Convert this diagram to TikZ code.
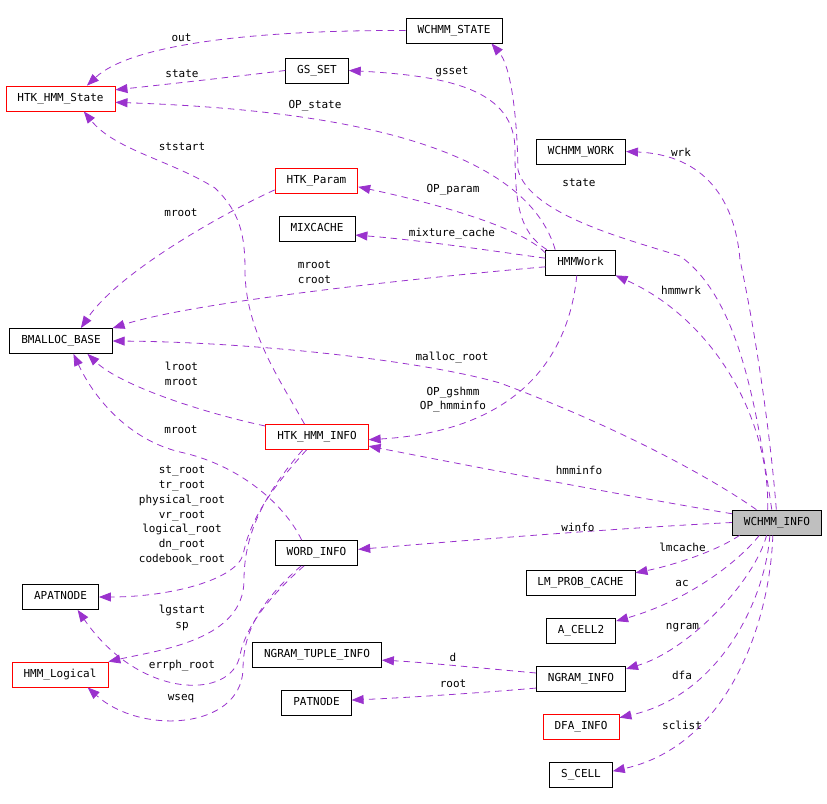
\documentclass[tikz,border=0pt]{standalone}
\usepackage{fontspec}
\newfontfamily\dxmono{DejaVu Sans Mono}
\usepackage{tikz}
\usetikzlibrary{arrows.meta}
\definecolor{dxedge}{HTML}{9A32CD}
\definecolor{dxred}{HTML}{FF0000}
\definecolor{dxfill}{HTML}{BFBFBF}

\begin{document}
\begin{tikzpicture}[x=1pt,y=-1pt,
  cls/.style={draw=black,line width=0.8pt,inner xsep=11.5pt,inner ysep=0pt,
    minimum height=25pt,text height=8pt,text depth=2.5pt,
    font=\dxmono\fontsize{11}{14.7}\selectfont},
  clsred/.style={cls,draw=dxred},
  rel/.style={dxedge,line width=0.8pt,dash pattern=on 6.5pt off 5pt,
    -{Triangle[length=12pt,width=9pt]}},
  lbl/.style={font=\dxmono\fontsize{11}{14.7}\selectfont,align=center,inner sep=0pt}]
  \useasboundingbox (0,0) rectangle (827,803);

  % classes
  \node[cls] (wstate) at (454,30.5) {WCHMM\_STATE};
  \node[cls] (gsset) at (317,70.5) {GS\_SET};
  \node[clsred] (hstate) at (60.5,98.5) {HTK\_HMM\_State};
  \node[cls] (wwork) at (581,151.5) {WCHMM\_WORK};
  \node[clsred] (hparam) at (316.5,181) {HTK\_Param};
  \node[cls] (mixcache) at (317,229) {MIXCACHE};
  \node[cls] (hmmwork) at (580.5,262.5) {HMMWork};
  \node[cls] (bmalloc) at (61,341) {BMALLOC\_BASE};
  \node[clsred] (hinfo) at (317,437) {HTK\_HMM\_INFO};
  \node[cls,fill=dxfill] (winfo) at (777,522.5) {WCHMM\_INFO};
  \node[cls] (wordinfo) at (316.5,553) {WORD\_INFO};
  \node[cls] (lmcache) at (580.5,582.5) {LM\_PROB\_CACHE};
  \node[cls] (apat) at (60.5,597) {APATNODE};
  \node[cls] (acell) at (581,630.5) {A\_CELL2};
  \node[cls] (ngtuple) at (317,654.5) {NGRAM\_TUPLE\_INFO};
  \node[clsred] (hlogical) at (60,674.5) {HMM\_Logical};
  \node[cls] (nginfo) at (581,678.5) {NGRAM\_INFO};
  \node[cls] (patnode) at (316.5,702.5) {PATNODE};
  \node[clsred] (dfainfo) at (581,726.5) {DFA\_INFO};
  \node[cls] (scell) at (581,774.5) {S\_CELL};

  % members
  \draw[rel] (wstate.west) .. controls (250,30) and (130,45) .. (hstate.26);
  \draw[rel] (gsset.west) .. controls (240,76) and (170,84) .. (hstate.9);
  \draw[rel] (hmmwork.153) .. controls (520,130) and (280,108) .. (hstate.356);
  \draw[rel] (hmmwork.159) .. controls (518,232) and (515,200) .. (515,150)
    .. controls (515,90) and (450,76) .. (gsset.east);
  \draw[rel] (winfo.112) .. controls (758,420) and (742,300) .. (680,256)
    .. controls (630,240) and (530,215) .. (518,170)
    .. controls (517,110) and (510,65) .. (wstate.341);
  \draw[rel] (winfo.93) .. controls (770,430) and (755,330) .. (740,260)
    .. controls (735,200) and (705,155) .. (wwork.east);
  \draw[rel] (winfo.126) .. controls (770,420) and (715,320) .. (hmmwork.south east);
  \draw[rel] (hmmwork.165) .. controls (520,225) and (420,200) .. (hparam.352);
  \draw[rel] (hmmwork.173) .. controls (500,252) and (420,240) .. (mixcache.351);
  \draw[rel] (hmmwork.187) .. controls (450,275) and (200,300) .. (bmalloc.north east);
  \draw[rel] (hparam.192) .. controls (230,210) and (120,270) .. (bmalloc.33);
  \draw[rel] (winfo.148) .. controls (700,470) and (600,420) .. (500,383)
    .. controls (420,360) and (250,342) .. (bmalloc.east);
  \draw[rel] (hinfo.168) .. controls (200,412) and (120,385) .. (bmalloc.334);
  \draw[rel] (wordinfo.139) .. controls (285,505) and (240,465) .. (180,452)
    .. controls (130,440) and (95,400) .. (bmalloc.314);
  \draw[rel] (hinfo.134) .. controls (280,380) and (245,330) .. (245,270)
    .. controls (245,235) and (240,212) .. (215,188)
    .. controls (170,160) and (115,150) .. (hstate.331);
  \draw[rel] (hmmwork.254) .. controls (570,345) and (530,430) .. (hinfo.357);
  \draw[rel] (winfo.169) .. controls (620,495) and (450,462) .. (hinfo.350);
  \draw[rel] (hinfo.231) .. controls (270,490) and (250,520) .. (243,555)
    .. controls (235,580) and (170,597) .. (apat.east);
  \draw[rel] (hinfo.222) .. controls (268,490) and (244,530) .. (244,580)
    .. controls (244,640) and (160,650) .. (hlogical.north east);
  \draw[rel] (winfo.west) .. controls (620,528) and (470,540) .. (wordinfo.5);
  \draw[rel] (wordinfo.226) .. controls (265,600) and (245,630) .. (240,655)
    .. controls (232,700) and (140,700) .. (apat.323);
  \draw[rel] (wordinfo.220) .. controls (262,600) and (243,630) .. (243,670)
    .. controls (240,730) and (140,735) .. (hlogical.335);
  \draw[rel] (winfo.199) .. controls (715,552) and (670,566) .. (lmcache.10);
  \draw[rel] (winfo.216) .. controls (740,560) and (690,600) .. (acell.15);
  \draw[rel] (winfo.231) .. controls (755,580) and (690,650) .. (nginfo.12);
  \draw[rel] (winfo.241) .. controls (765,600) and (720,695) .. (dfainfo.13);
  \draw[rel] (winfo.252) .. controls (770,620) and (730,745) .. (scell.6);
  \draw[rel] (nginfo.173) .. controls (480,668) and (420,662) .. (ngtuple.355);
  \draw[rel] (nginfo.192) .. controls (480,693) and (400,698) .. (patnode.4);

  % member names
  \node[lbl] (l-out) at (181.5,38) {out};
  \node[lbl] (l-state) at (182,74) {state};
  \node[lbl] (l-opstate) at (315,106) {OP\_state};
  \node[lbl] (l-ststart) at (182,147) {ststart};
  \node[lbl] (l-gsset) at (452,72) {gsset};
  \node[lbl] (l-wrk) at (681,152) {wrk};
  \node[lbl] (l-wstate) at (579,183) {state};
  \node[lbl] (l-opparam) at (453,190) {OP\_param};
  \node[lbl] (l-mroot1) at (181,213) {mroot};
  \node[lbl] (l-mixture) at (452,234) {mixture\_cache};
  \node[lbl] (l-croot) at (314.5,272.5) {mroot\\croot};
  \node[lbl] (l-hmmwrk) at (681,290) {hmmwrk};
  \node[lbl] (l-malloc) at (452,358) {malloc\_root};
  \node[lbl] (l-lroot) at (181.5,374) {lroot\\mroot};
  \node[lbl] (l-gshmm) at (453,399.5) {OP\_gshmm\\OP\_hmminfo};
  \node[lbl] (l-mroot2) at (181,430) {mroot};
  \node[lbl] (l-hmminfo) at (579,470) {hmminfo};
  \node[lbl] (l-roots) at (182,515.5) {st\_root\\tr\_root\\physical\_root\\vr\_root\\logical\_root\\dn\_root\\codebook\_root};
  \node[lbl] (l-winfo) at (578,527) {winfo};
  \node[lbl] (l-lmcache) at (682.5,547.5) {lmcache};
  \node[lbl] (l-ac) at (682,583) {ac};
  \node[lbl] (l-lgstart) at (182,618) {lgstart\\sp};
  \node[lbl] (l-ngram) at (682.5,627.5) {ngram};
  \node[lbl] (l-d) at (453,657.5) {d};
  \node[lbl] (l-errph) at (182,666) {errph\_root};
  \node[lbl] (l-dfa) at (682,675) {dfa};
  \node[lbl] (l-root) at (453,684) {root};
  \node[lbl] (l-wseq) at (181,699) {wseq};
  \node[lbl] (l-sclist) at (682,725.5) {sclist};
\end{tikzpicture}
\end{document}
